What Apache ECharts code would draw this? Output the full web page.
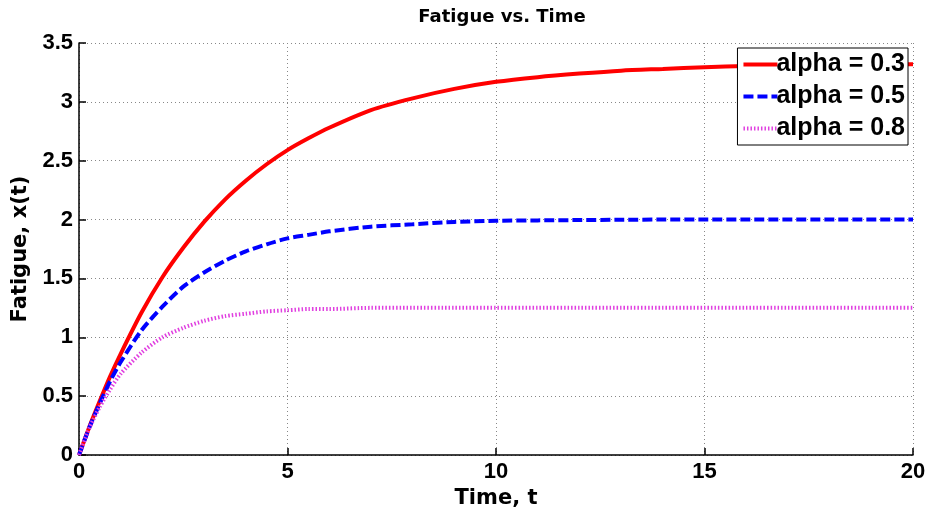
<!DOCTYPE html>
<html>
<head>
<meta charset="utf-8">
<script src="https://cdn.jsdelivr.net/npm/echarts@6/dist/echarts.min.js"></script>
<style>html,body{margin:0;padding:0;background:#fff}#c{width:931px;height:516px}</style>
</head>
<body>
<div id="c"></div>
<script>
var tValues = [0,0.25,0.5,0.75,1,1.5,2,2.5,3,3.5,4,4.5,5,5.5,6,7,8,9,10,11,12,13,14,15,16,17,18,19,20];
var alpha03 = [0,0.24,0.46,0.67,0.86,1.21,1.51,1.76,1.98,2.17,2.33,2.47,2.59,2.69,2.78,2.93,3.03,3.11,3.17,3.21,3.24,3.265,3.28,3.295,3.305,3.31,3.315,3.32,3.32];
var alpha05 = [0,0.235,0.44,0.63,0.79,1.06,1.26,1.43,1.55,1.65,1.73,1.79,1.84,1.87,1.90,1.94,1.96,1.98,1.99,1.993,1.996,1.998,2.00,2.00,2.00,2.00,2.00,2.00,2.00];
var alpha08 = [0,0.23,0.41,0.56,0.69,0.87,1.00,1.08,1.14,1.18,1.20,1.22,1.23,1.24,1.24,1.25,1.25,1.25,1.25,1.25,1.25,1.25,1.25,1.25,1.25,1.25,1.25,1.25,1.25];
var seriesNames = ['alpha = 0.3','alpha = 0.5','alpha = 0.8'];
var xTicks = [0,5,10,15,20];
var yTicks = [0,0.5,1,1.5,2,2.5,3,3.5];

function pairs(ys){ return tValues.map(function(t,i){ return [t, ys[i]]; }); }
var font = 'Liberation Sans, Arial, sans-serif';
var wide = 'DejaVu Sans, sans-serif';
var chart = echarts.init(document.getElementById('c'));
chart.setOption({
  animation: false,
  backgroundColor: '#fff',
  title: {
    text: 'Fatigue vs. Time', left: 497, top: 3, textAlign: 'center',
    textStyle: {fontFamily: wide, fontSize: 18, fontWeight: 'bold', color: '#000'}
  },
  grid: {left: 79, right: 18, top: 43, bottom: 61, containLabel: false, outerBoundsMode: 'none'},
  legend: {
    right: 23, top: 48, orient: 'vertical',
    backgroundColor: '#fff', borderColor: '#000', borderWidth: 1,
    padding: [4, 3, 4, 4], itemGap: 7, itemWidth: 34, itemHeight: 14,
    itemStyle: {opacity: 0},
    lineStyle: {width: 4},
    textStyle: {fontFamily: font, fontSize: 25, fontWeight: 'bold', color: '#000', padding: [0,0,0,-6]},
    data: seriesNames
  },
  xAxis: {
    type: 'value', min: 0, max: 20, interval: 5,
    name: 'Time, t', nameLocation: 'middle', nameGap: 30,
    nameTextStyle: {fontFamily: wide, fontSize: 21, fontWeight: 'bold', color: '#000'},
    axisLine: {onZero: false, lineStyle: {color: '#000', width: 1.5}},
    axisTick: {inside: true, length: 7, lineStyle: {color: '#000', width: 1.5}},
    axisLabel: {fontFamily: font, fontSize: 22, fontWeight: 'bold', color: '#000', margin: 6,
      formatter: function(v){ return xTicks.indexOf(v) >= 0 ? String(v) : ''; }},
    splitLine: {show: true, lineStyle: {color: '#888', type: [1, 3], width: 1}}
  },
  yAxis: {
    type: 'value', min: 0, max: 3.5, interval: 0.5,
    name: 'Fatigue, x(t)', nameLocation: 'middle', nameGap: 46,
    nameTextStyle: {fontFamily: wide, fontSize: 21, fontWeight: 'bold', color: '#000'},
    axisLine: {show: true, onZero: false, lineStyle: {color: '#000', width: 1.5}},
    axisTick: {show: true, inside: true, length: 7, lineStyle: {color: '#000', width: 1.5}},
    axisLabel: {fontFamily: font, fontSize: 22, fontWeight: 'bold', color: '#000', margin: 6,
      formatter: function(v){ return yTicks.indexOf(v) >= 0 ? String(v) : ''; }},
    splitLine: {show: true, lineStyle: {color: '#888', type: [1, 3], width: 1}}
  },
  series: [
    {name: seriesNames[0], type: 'line', data: pairs(alpha03), smooth: 0.25, symbol: 'none',
      lineStyle: {color: '#ff0000', width: 4, type: 'solid'}, itemStyle: {color: '#ff0000'}, z: 3},
    {name: seriesNames[1], type: 'line', data: pairs(alpha05), smooth: 0.25, symbol: 'none',
      lineStyle: {color: '#0000ff', width: 4, type: [10, 4]}, itemStyle: {color: '#0000ff'}, z: 4},
    {name: seriesNames[2], type: 'line', data: pairs(alpha08), smooth: 0.25, symbol: 'none',
      lineStyle: {color: '#e040e0', width: 4, type: [1.5, 2]}, itemStyle: {color: '#e040e0'}, z: 5}
  ]
});
</script>
</body>
</html>
